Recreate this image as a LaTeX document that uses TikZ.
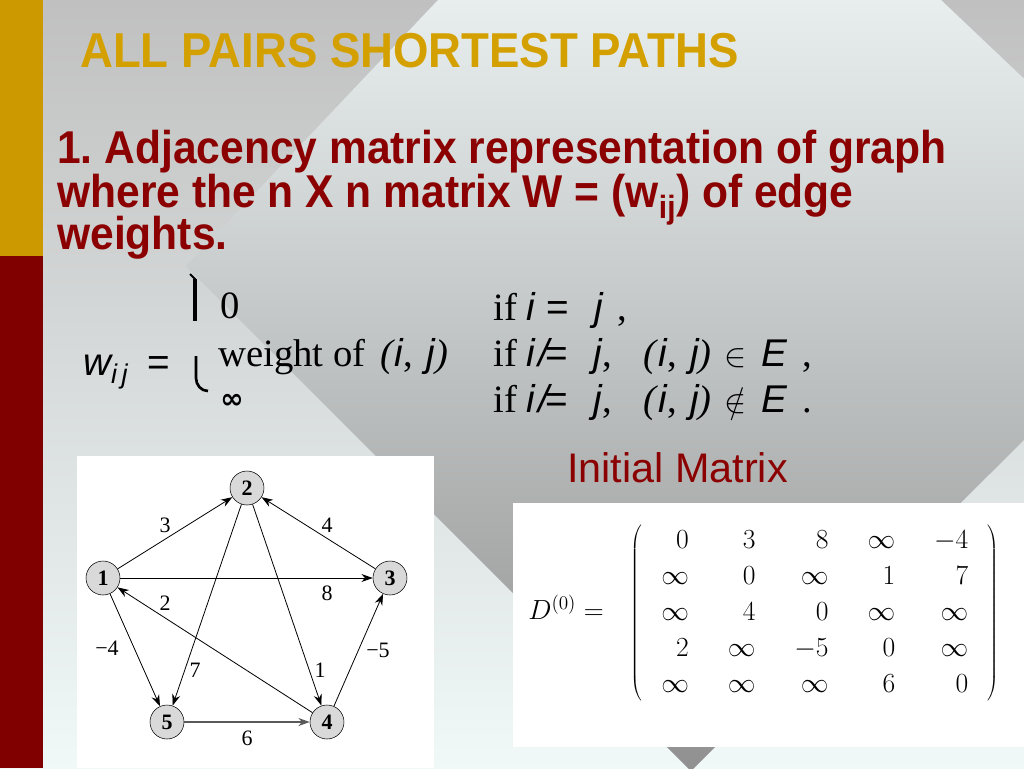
\documentclass[tikz,border=0pt]{standalone}
\usepackage{fontspec}
\setmainfont{Liberation Serif}
\setsansfont{Liberation Sans}
\newfontfamily\dejavu{DejaVu Sans}
\usetikzlibrary{arrows.meta}
\frenchspacing

\definecolor{bargold}{HTML}{CC9900}
\definecolor{titlegold}{HTML}{D4A000}
\definecolor{barred}{HTML}{800000}
\definecolor{textred}{HTML}{8B0000}
\definecolor{slidetop}{HTML}{C0C0C0}
\definecolor{slidebot}{HTML}{F0F8F8}
\definecolor{kitetop}{HTML}{E8EEEE}
\definecolor{kitebot}{HTML}{909090}

\newcommand{\sfit}[1]{{\sffamily\itshape #1}}

\begin{document}
\begin{tikzpicture}[x=0.75pt, y=-0.75pt]
    % Define styles
    \tikzset{
        heading/.style={anchor=base west, inner sep=0, text=titlegold, xscale=0.93, font=\fontsize{36.75}{40}\selectfont\sffamily\bfseries},
        bodyline/.style={anchor=base west, inner sep=0, text=textred, xscale=0.925, font=\fontsize{34.5}{40}\selectfont\sffamily\bfseries},
        formula/.style={anchor=base west, inner sep=0, font=\fontsize{29}{32}\selectfont},
        vertex/.style={circle, draw, fill=gray!30, minimum size=25.5pt, inner sep=0, font=\fontsize{16.5}{16.5}\selectfont\bfseries},
        weight/.style={inner sep=0, font=\fontsize{16.5}{16.5}\selectfont},
        edge/.style={->, >={Stealth[length=8.5pt, width=6pt]}, line width=0.6pt}
    }
    \useasboundingbox (0,0) rectangle (1024,768);

    % Slide background
    \shade[top color=slidetop, bottom color=slidebot] (0,0) rectangle (1024,768);
    \begin{scope}
        \clip (0,0) rectangle (1024,768);
        \shade[top color=kitetop, bottom color=kitebot] (438,0) -- (941,0) -- (1210,255) -- (691,771) -- (186,266) -- cycle;
    \end{scope}
    \fill[bargold] (0,0) rectangle (43,256);
    \fill[barred] (0,256) rectangle (43,768);

    % Title
    \node[heading] (title) at (80,67) {ALL PAIRS SHORTEST PATHS};

    % Definition text
    \node[bodyline] (adj1) at (57,163) {1. Adjacency matrix representation of graph};
    \node[bodyline] (adj2) at (57,207) {where the n X n matrix W = (w\textsubscript{ij}) of edge};
    \node[bodyline] (adj3) at (57,249) {weights.};

    % Weight formula
    \node[formula] (wdef) at (83,375) {\sfit{w}\textsubscript{\sfit{i\,j}}\ \ {\sffamily =}};
    \draw[line width=3pt] (195,279) -- (195,321);
    \draw[line width=1.5pt] (196,280) -- (190,274);
    \draw[line width=2pt] (196,356) -- (196,378) to[out=-90, in=180] (208,391);
    \node[formula] (case0) at (220,318) {0};
    \node[formula] (casew) at (218,366) {weight of\hspace{11pt}\textit{(}\sfit{i},\hspace{10pt}\sfit{j}\textit{)}};
    \node[formula] (caseinf) at (220,408) {\dejavu\bfseries\fontsize{21}{21}\selectfont ∞};
    \node[formula] (cond1) at (493,320) {if\hspace{7pt}\sfit{i}\hspace{9pt}{\sffamily =}\hspace{19pt}\sfit{j}\hspace{11pt},};
    \node[formula] (cond2) at (493,366) {if\hspace{7pt}\sfit{i}\hspace{3pt}\sfit{/}\kern-3pt{\sffamily =}\hspace{19pt}\sfit{j},\hspace{24pt}\textit{(}\sfit{i},\hspace{10pt}\sfit{j}\textit{)}\hspace{10pt}$\in$\hspace{11pt}\sfit{E}\hspace{11pt},};
    \node[formula] (cond3) at (493,412) {if\hspace{7pt}\sfit{i}\hspace{3pt}\sfit{/}\kern-3pt{\sffamily =}\hspace{19pt}\sfit{j},\hspace{24pt}\textit{(}\sfit{i},\hspace{10pt}\sfit{j}\textit{)}\hspace{10pt}$\notin$\hspace{11pt}\sfit{E}\hspace{11pt}.};

    % Graph picture
    \fill[white] (77,456) rectangle (434,768);
    \node[vertex] (n1) at (103,578) {1};
    \node[vertex] (n2) at (247,488) {2};
    \node[vertex] (n3) at (390,578) {3};
    \node[vertex] (n4) at (327,722) {4};
    \node[vertex] (n5) at (167,722) {5};

    \draw[edge] (n1) -- (n2);
    \draw[edge] (n3) -- (n2);
    \draw[edge] (n1) -- (n3);
    \draw[edge] (n4) -- (n1);
    \draw[edge] (n1) -- (n5);
    \draw[edge] (n2) -- (n5);
    \draw[edge] (n2) -- (n4);
    \draw[edge] (n4) -- (n3);
    \draw[edge, line width=1.3pt, gray!70!black] (n5) -- (n4);

    \node[weight] (w12) at (165,525) {3};
    \node[weight] (w32) at (327,525) {4};
    \node[weight] (w13) at (327,593) {8};
    \node[weight] (w41) at (165,603) {2};
    \node[weight] (w15) at (107,648) {−4};
    \node[weight] (w25) at (195,670) {7};
    \node[weight] (w24) at (320,670) {1};
    \node[weight] (w43) at (378,650) {−5};
    \node[weight] (w54) at (247,738) {6};

    % Initial matrix
    \node[anchor=base west, inner sep=0, text=textred, font=\fontsize{31}{32}\selectfont\sffamily] (initlabel) at (567,482) {Initial Matrix};
    \fill[white] (513,503) rectangle (1024,747);
    \node[anchor=west, inner sep=0, font=\fontsize{22.5}{27}\selectfont] (dmat) at (528,613) {$D^{(0)} =\hspace{14pt} \setlength{\arraycolsep}{14.6pt}\left(\begin{array}{rrrrr}
        0 & 3 & 8 & \infty & -4\\
        \infty & 0 & \infty & 1 & 7\\
        \infty & 4 & 0 & \infty & \infty\\
        2 & \infty & -5 & 0 & \infty\\
        \infty & \infty & \infty & 6 & 0
    \end{array}\right)$};
\end{tikzpicture}
\end{document}
